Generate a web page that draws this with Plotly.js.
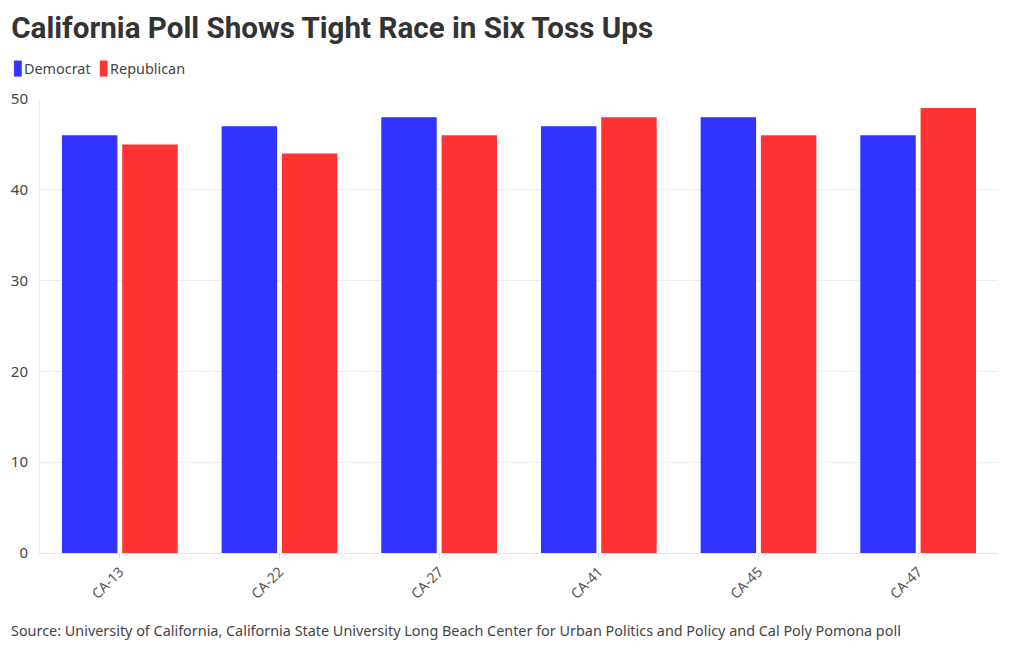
<!DOCTYPE html>
<html>
<head>
<meta charset="utf-8">
<script src="https://cdn.plot.ly/plotly-3.0.1.min.js"></script>
<style>
  body { margin: 0; background: #fff; }
  #chart { width: 1020px; height: 650px; }
</style>
</head>
<body>
<div id="chart"></div>
<script>
const districts = ['CA-13', 'CA-22', 'CA-27', 'CA-41', 'CA-45', 'CA-47'];
const democrat = [46, 47, 48, 47, 48, 46];
const republican = [45, 44, 46, 48, 46, 49];
const seriesNames = ['Democrat', 'Republican'];
const seriesColors = ['#3333ff', '#ff3333'];

const demTrace = {
    x: districts,
    y: democrat,
    type: 'bar',
    name: seriesNames[0],
    marker: { color: seriesColors[0] },
    hoverinfo: 'y+name'
};

const repTrace = {
    x: districts,
    y: republican,
    type: 'bar',
    name: seriesNames[1],
    marker: { color: seriesColors[1] },
    hoverinfo: 'y+name'
};

// legend drawn as one annotation so the small swatches sit tight to the text
const legendText = seriesNames.map((n, i) =>
    '<span style="color:' + seriesColors[i] + ';font-size:21px">▮</span>' + n
).join('&nbsp;&nbsp;');

const layout = {
    width: 1020,
    height: 650,
    margin: { l: 40, r: 22, t: 99, b: 97 },
    font: { family: 'Noto Sans, Open Sans, sans-serif', size: 14, color: '#444' },
    title: {
        text: '<b>California Poll Shows Tight Race in Six Toss Ups</b>',
        font: { family: 'Roboto, sans-serif', size: 29.6, color: '#333' },
        x: 0.011, xanchor: 'left', y: 0.958, yanchor: 'middle'
    },
    barmode: 'group',
    bargap: 0.245,
    bargroupgap: 0.08,
    showlegend: false,
    xaxis: {
        tickangle: -45,
        ticks: 'outside',
        ticklen: 4,
        tickcolor: '#ddd',
        showline: true,
        linecolor: '#e6e6e6',
        tickfont: { size: 14, color: '#555' }
    },
    yaxis: {
        range: [0, 50],
        dtick: 10,
        gridcolor: '#eee',
        zeroline: true,
        zerolinecolor: '#e6e6e6',
        showline: true,
        linecolor: '#eee',
        ticks: 'outside',
        ticklen: 8,
        tickcolor: '#fff',
        tickfont: { size: 15, color: '#444' }
    },
    annotations: [{
        text: legendText,
        xref: 'paper', yref: 'paper',
        x: -0.031, xanchor: 'left',
        y: 1.072, yanchor: 'middle',
        showarrow: false,
        font: { size: 14.4, color: '#444' }
    }, {
        text: 'Source: University of California, California State University Long Beach Center for Urban Politics and Policy and Cal Poly Pomona poll',
        xref: 'paper', yref: 'paper',
        x: -0.032, xanchor: 'left',
        y: -0.17, yanchor: 'middle',
        showarrow: false,
        font: { size: 14.4, color: '#444' }
    }]
};

Plotly.newPlot('chart', [demTrace, repTrace], layout, { displayModeBar: false });
</script>
</body>
</html>
